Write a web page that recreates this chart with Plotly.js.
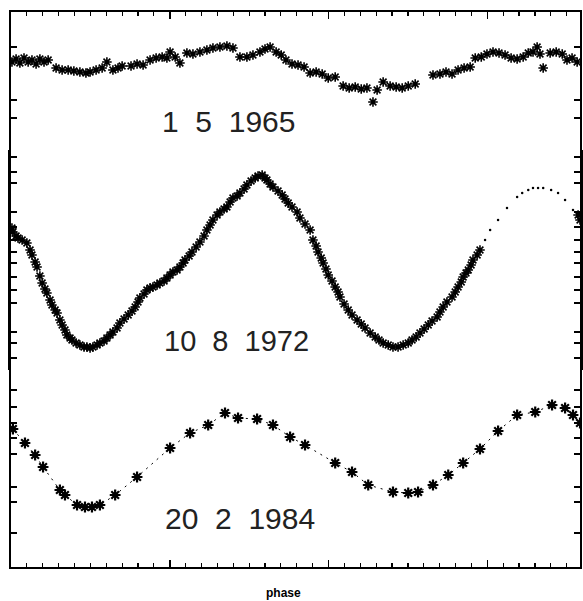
<!DOCTYPE html>
<html>
<head>
<meta charset="utf-8">
<script src="https://cdn.plot.ly/plotly-3.0.1.min.js"></script>
<style>html,body{margin:0;padding:0;background:#fff;}#chart{width:583px;height:601px;}</style>
</head>
<body>
<div id="chart"></div>
<script>
// ---- 1 5 1965 ----
const phase1965 = [0.003,0.016,0.028,0.041,0.054,0.066,0.079,0.091,0.104,0.117,0.142,0.161,0.180,0.198,0.217,0.236,0.249,0.268,0.287,0.302,0.321,0.337,0.350,0.378,0.397,0.416,0.438,0.457,0.476,0.491,0.501,0.517,0.532,0.554,0.573,0.595,0.617,0.636,0.658,0.680,0.699,0.721,0.743,0.762,0.784,0.800,0.816,0.835,0.851,0.866,0.885,0.904,0.923,0.942,0.961,0.980,0.999,1.021,1.046,1.065,1.084,1.103,1.121,1.140,1.153,1.172,1.194,1.213,1.232,1.251,1.273,1.329,1.351,1.370,1.389,1.408,1.427,1.446,1.462,1.481,1.499,1.518,1.537,1.556,1.575,1.594,1.613,1.629,1.644,1.657,1.666,1.676,1.698,1.717,1.736,1.751,1.767,1.783];
const mag1965 = [0.250,0.235,0.255,0.230,0.250,0.240,0.260,0.235,0.250,0.240,0.280,0.290,0.290,0.295,0.300,0.305,0.300,0.290,0.280,0.250,0.290,0.280,0.270,0.270,0.260,0.265,0.240,0.230,0.225,0.230,0.200,0.225,0.255,0.205,0.210,0.200,0.190,0.180,0.175,0.170,0.180,0.225,0.225,0.215,0.200,0.185,0.175,0.200,0.215,0.240,0.260,0.265,0.275,0.305,0.300,0.310,0.330,0.325,0.370,0.380,0.375,0.385,0.380,0.450,0.390,0.350,0.370,0.375,0.380,0.370,0.360,0.315,0.310,0.300,0.310,0.290,0.280,0.275,0.230,0.225,0.210,0.200,0.205,0.215,0.230,0.235,0.225,0.205,0.200,0.175,0.210,0.280,0.205,0.200,0.210,0.240,0.230,0.250];

// ---- 10 8 1972 ----
const phase1972 = [0.003,0.006,0.016,0.022,0.035,0.050,0.060,0.066,0.076,0.082,0.091,0.098,0.107,0.113,0.123,0.129,0.139,0.145,0.154,0.161,0.170,0.176,0.186,0.192,0.205,0.217,0.230,0.239,0.249,0.258,0.271,0.280,0.293,0.302,0.312,0.321,0.334,0.343,0.356,0.369,0.381,0.391,0.400,0.406,0.419,0.428,0.438,0.447,0.460,0.469,0.482,0.491,0.501,0.510,0.523,0.532,0.542,0.548,0.561,0.570,0.583,0.595,0.608,0.617,0.627,0.636,0.649,0.658,0.671,0.680,0.690,0.699,0.712,0.721,0.734,0.743,0.756,0.769,0.778,0.791,0.800,0.806,0.816,0.825,0.841,0.854,0.863,0.873,0.885,0.901,0.910,0.926,0.942,0.951,0.961,0.967,0.977,0.983,0.992,0.999,1.011,1.021,1.030,1.036,1.049,1.062,1.074,1.090,1.103,1.115,1.131,1.147,1.159,1.172,1.188,1.203,1.219,1.235,1.251,1.263,1.276,1.288,1.301,1.314,1.326,1.342,1.351,1.361,1.373,1.389,1.399,1.408,1.418,1.424,1.433,1.440,1.449,1.455,1.468,1.477,1.786,1.792];
const mag1972 = [0.390,0.410,0.430,0.440,0.450,0.465,0.500,0.525,0.560,0.585,0.630,0.665,0.695,0.715,0.750,0.775,0.800,0.815,0.850,0.875,0.900,0.925,0.940,0.950,0.965,0.975,0.985,0.985,0.990,0.985,0.975,0.965,0.955,0.940,0.925,0.910,0.890,0.865,0.845,0.825,0.805,0.785,0.760,0.740,0.720,0.700,0.690,0.685,0.675,0.665,0.655,0.640,0.625,0.610,0.600,0.585,0.565,0.550,0.530,0.510,0.485,0.460,0.430,0.400,0.375,0.350,0.325,0.310,0.295,0.285,0.260,0.240,0.230,0.215,0.195,0.175,0.155,0.140,0.130,0.125,0.140,0.150,0.170,0.185,0.205,0.225,0.245,0.265,0.285,0.310,0.340,0.370,0.400,0.450,0.480,0.510,0.540,0.565,0.595,0.625,0.655,0.685,0.710,0.735,0.770,0.800,0.825,0.850,0.870,0.890,0.915,0.935,0.950,0.965,0.975,0.985,0.985,0.975,0.965,0.950,0.935,0.915,0.895,0.875,0.855,0.835,0.810,0.785,0.760,0.735,0.710,0.685,0.660,0.635,0.615,0.600,0.575,0.550,0.525,0.500,0.325,0.350];
// repeated part of the 1972 curve, drawn as small dots
const phase1972rep = [1.493,1.509,1.534,1.562,1.594,1.610,1.629,1.644,1.660,1.676,1.701,1.723,1.745,1.770];
const mag1972rep = [0.450,0.400,0.350,0.290,0.235,0.215,0.200,0.190,0.190,0.190,0.200,0.215,0.250,0.300];

// ---- 20 2 1984 ----
const phase1984 = [0.006,0.044,0.076,0.101,0.154,0.170,0.208,0.233,0.255,0.280,0.328,0.397,0.501,0.564,0.621,0.674,0.715,0.775,0.825,0.879,0.926,1.021,1.074,1.125,1.203,1.251,1.282,1.329,1.377,1.424,1.477,1.534,1.594,1.651,1.704,1.745,1.770,1.792];
const mag1984 = [0.295,0.365,0.425,0.485,0.600,0.625,0.675,0.685,0.685,0.675,0.625,0.535,0.390,0.315,0.275,0.215,0.240,0.245,0.275,0.335,0.375,0.465,0.510,0.575,0.610,0.615,0.610,0.575,0.525,0.465,0.395,0.305,0.225,0.210,0.175,0.190,0.225,0.265];

const dateLabels = ['1\u00a0\u00a05\u00a0\u00a01965', '10\u00a0\u00a08\u00a0\u00a01972', '20\u00a0\u00a02\u00a0\u00a01984'];
const xTitle = 'phase';

const ticks1965 = [0.175,0.44,0.53];
const ticks1972 = [0.035,0.11,0.165,0.31,0.385,0.45,0.51,0.565,0.635,0.70,0.765,0.91,0.965,1.04];
const ticks1984 = [0.10,0.185,0.265,0.34,0.42,0.585,0.66,0.815];

const star = {color:'black', symbol:'asterisk-open', size:8, line:{color:'black', width:1.6}};

const traces = [
  {x:phase1965, y:mag1965, xaxis:'x2', yaxis:'y', mode:'markers', marker:star, name:dateLabels[0]},
  {x:phase1972, y:mag1972, xaxis:'x', yaxis:'y2', mode:'markers', marker:star, name:dateLabels[1]},
  {x:phase1972rep, y:mag1972rep, xaxis:'x', yaxis:'y2', mode:'markers', marker:{color:'black', symbol:'circle', size:2.5}, name:dateLabels[1]+' (repeat)'},
  {x:phase1984, y:mag1984, xaxis:'x', yaxis:'y3', mode:'lines+markers', line:{color:'black', width:1, dash:'2px,5px'}, marker:{color:'black', symbol:'asterisk-open', size:9, line:{color:'black', width:2.2}}, name:dateLabels[2]}
];

const H = 555;
const dBot = 197/H, dMid = 417/H;

function yax(domain, range, tv, lw){
  return {domain:domain, range:range, tickvals:tv, ticks:'inside', ticklen:6, tickwidth:1.5, tickcolor:'black',
    showticklabels:false, showgrid:false, zeroline:false, showline:true, linecolor:'black', linewidth:lw, mirror:'ticks'};
}
const xcommon = {range:[0,1.792], tick0:0, dtick:0.5, ticks:'inside', ticklen:7, tickwidth:1.5, tickcolor:'black',
  minor:{dtick:0.05, ticks:'inside', ticklen:4, tickwidth:1.2, tickcolor:'black'},
  showticklabels:false, showgrid:false, zeroline:false, showline:true, linecolor:'black', linewidth:2};

const layout = {
  width:583, height:601,
  margin:{l:11, r:3, t:12, b:34},
  paper_bgcolor:'white', plot_bgcolor:'white',
  showlegend:false,
  font:{family:'Liberation Sans, Arial, sans-serif', color:'black'},
  xaxis:Object.assign({}, xcommon, {anchor:'y3', side:'bottom'}),
  xaxis2:Object.assign({}, xcommon, {anchor:'y', side:'top', matches:'x'}),
  yaxis:yax([dMid,1], [0.69,0], ticks1965, 2),
  yaxis2:yax([dBot,dMid], [1.10,0], ticks1972, 3),
  yaxis3:yax([0,dBot], [0.985,0], ticks1984, 2),
  annotations:[
    {text:dateLabels[0], xref:'paper', yref:'paper', x:(160-11)/569, y:(567-122)/H, xanchor:'left', yanchor:'middle', showarrow:false, font:{size:30, color:'#222'}},
    {text:dateLabels[1], xref:'paper', yref:'paper', x:(162-11)/569, y:(567-341)/H, xanchor:'left', yanchor:'middle', showarrow:false, font:{size:29, color:'#222'}},
    {text:dateLabels[2], xref:'paper', yref:'paper', x:(163-11)/569, y:(567-518)/H, xanchor:'left', yanchor:'middle', showarrow:false, font:{size:30, color:'#222'}},
    {text:xTitle, xref:'paper', yref:'paper', x:(283-11)/569, y:(567-593)/H, xanchor:'center', yanchor:'middle', showarrow:false, font:{size:12, weight:'bold', color:'black'}}
  ]
};

Plotly.newPlot('chart', traces, layout, {staticPlot:true, displayModeBar:false});
</script>
</body>
</html>
